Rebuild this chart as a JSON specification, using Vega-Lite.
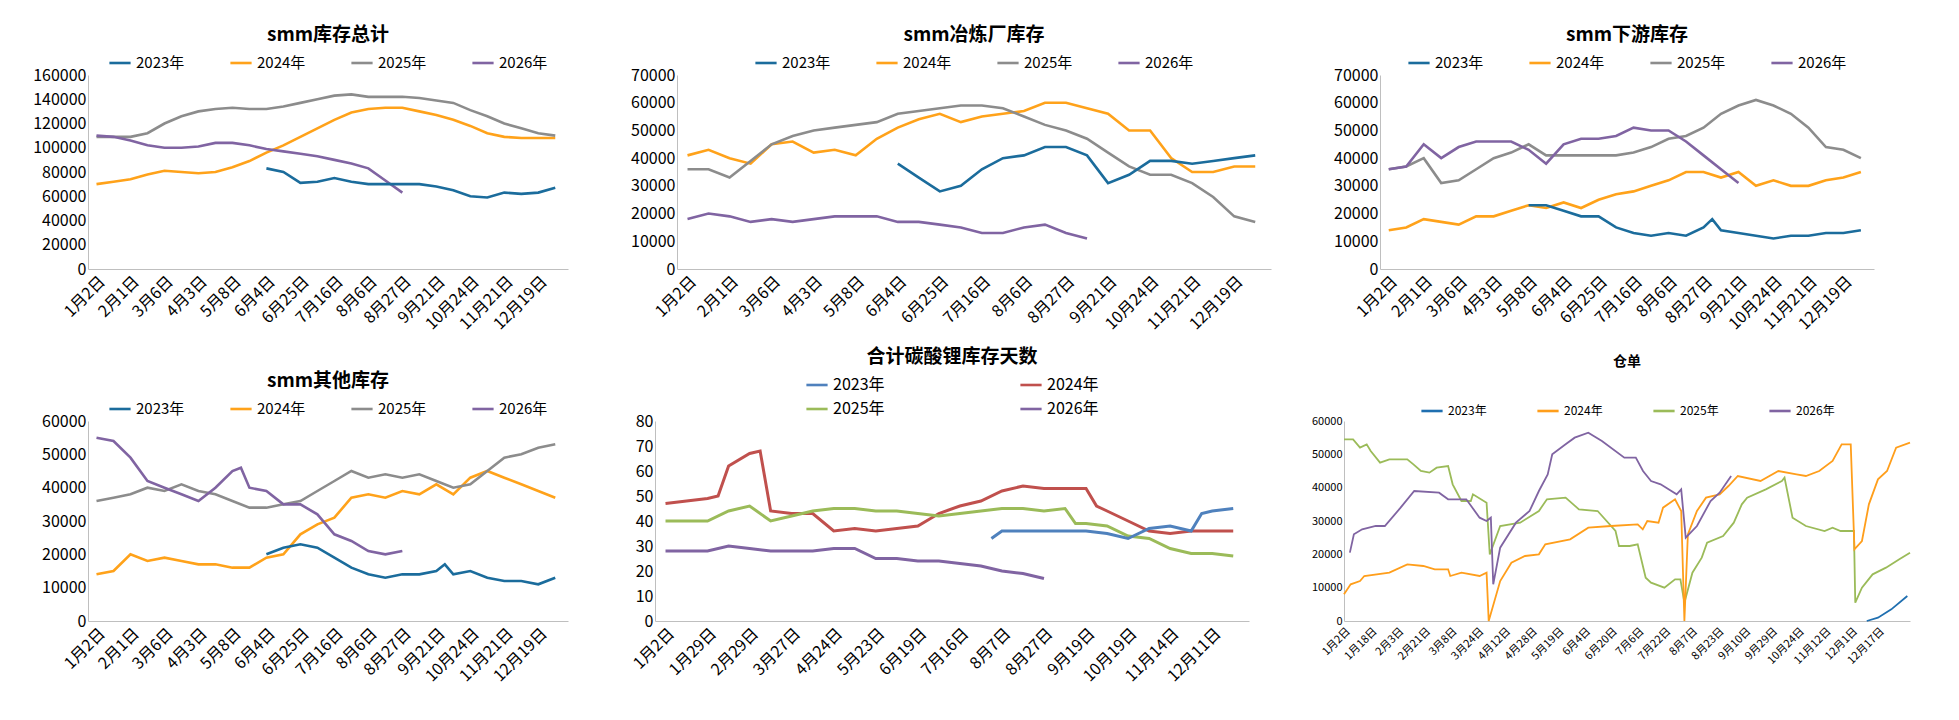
{
  "$schema": "https://vega.github.io/schema/vega-lite/v6.json",
  "background": "white",
  "padding": {"left": 32, "top": 26, "right": 5, "bottom": 5},
  "resolve": {"scale": {"color": "independent"}, "legend": {"color": "independent"}},
  "config": {
    "view": {"stroke": null},
    "font": "Noto Sans CJK SC",
    "axis": {"grid": false, "ticks": false, "domainColor": "#BFBFBF", "labelColor": "#000", "labelFontSize": 16, "title": null, "labelFont": "Noto Sans CJK SC", "labelOverlap": false},
    "axisX": {"labelAngle": -45, "labelPadding": 4},
    "legend": {"orient": "top", "direction": "horizontal", "title": null, "symbolType": "stroke", "symbolStrokeWidth": 3, "symbolSize": 450, "labelFontSize": 15, "columnPadding": 40, "offset": 4, "layout": {"top": {"anchor": "middle"}}},
    "title": {"fontSize": 19, "fontWeight": "bold", "color": "#000", "offset": 6},
    "line": {"strokeWidth": 2.6}
  },
  "vconcat": [
    {
      "spacing": 62,
      "resolve": {"scale": {"color": "independent"}, "legend": {"color": "independent"}},
      "hconcat": [
        {
          "title": "smm库存总计",
          "width": 480, "height": 194,
          "data": {"values": [
            {"i":0,"b":70000,"c":109000,"d":110000},{"i":2,"b":72000,"c":109000,"d":109000},{"i":4,"b":74000,"c":109000,"d":106000},{"i":6,"b":78000,"c":112000,"d":102000},{"i":8,"b":81000,"c":120000,"d":100000},{"i":10,"b":80000,"c":126000,"d":100000},{"i":12,"b":79000,"c":130000,"d":101000},{"i":14,"b":80000,"c":132000,"d":104000},{"i":16,"b":84000,"c":133000,"d":104000},{"i":18,"b":89000,"c":132000,"d":102000},{"i":20,"a":83000,"b":96000,"c":132000,"d":99000},{"i":22,"a":80000,"b":102000,"c":134000,"d":97000},{"i":24,"a":71000,"b":109000,"c":137000,"d":95000},{"i":26,"a":72000,"b":116000,"c":140000,"d":93000},{"i":28,"a":75000,"b":123000,"c":143000,"d":90000},{"i":30,"a":72000,"b":129000,"c":144000,"d":87000},{"i":32,"a":70000,"b":132000,"c":142000,"d":83000},{"i":34,"a":70000,"b":133000,"c":142000,"d":73000},{"i":36,"a":70000,"b":133000,"c":142000,"d":63000},{"i":38,"a":70000,"b":130000,"c":141000},{"i":40,"a":68000,"b":127000,"c":139000},{"i":42,"a":65000,"b":123000,"c":137000},{"i":44,"a":60000,"b":118000,"c":131000},{"i":46,"a":59000,"b":112000,"c":126000},{"i":48,"a":63000,"b":109000,"c":120000},{"i":50,"a":62000,"b":108000,"c":116000},{"i":52,"a":63000,"b":108000,"c":112000},{"i":54,"a":67000,"b":108000,"c":110000}
          ]},
          "transform": [{"fold": ["a","b","c","d"], "as": ["s","v"]}, {"filter": {"field": "v", "valid": true}}],
          "mark": "line",
          "encoding": {
            "x": {"field": "i", "type": "quantitative", "scale": {"domain": [-1, 55.5], "nice": false}, "axis": {"values": [0,4,8,12,16,20,24,28,32,36,40,44,48,52], "labelExpr": "['1月2日','2月1日','3月6日','4月3日','5月8日','6月4日','6月25日','7月16日','8月6日','8月27日','9月21日','10月24日','11月21日','12月19日'][datum.value/4]"}},
            "y": {"field": "v", "type": "quantitative", "scale": {"domain": [0, 160000]}, "axis": {"values": [0,20000,40000,60000,80000,100000,120000,140000,160000], "format": "d"}},
            "color": {"field": "s", "type": "nominal", "scale": {"domain": ["a","b","c","d"], "range": ["#1B6C9C","#FFA21A","#8C8C8C","#8064A2"]}, "legend": {"labelExpr": "{'a':'2023年','b':'2024年','c':'2025年','d':'2026年'}[datum.label]"}}
          }
        },
        {
          "title": "smm冶炼厂库存",
          "width": 594, "height": 194,
          "data": {"values": [
            {"i":0,"b":41000,"c":36000,"d":18000},{"i":2,"b":43000,"c":36000,"d":20000},{"i":4,"b":40000,"c":33000,"d":19000},{"i":6,"b":38000,"c":39000,"d":17000},{"i":8,"b":45000,"c":45000,"d":18000},{"i":10,"b":46000,"c":48000,"d":17000},{"i":12,"b":42000,"c":50000,"d":18000},{"i":14,"b":43000,"c":51000,"d":19000},{"i":16,"b":41000,"c":52000,"d":19000},{"i":18,"b":47000,"c":53000,"d":19000},{"i":20,"a":38000,"b":51000,"c":56000,"d":17000},{"i":22,"a":33000,"b":54000,"c":57000,"d":17000},{"i":24,"a":28000,"b":56000,"c":58000,"d":16000},{"i":26,"a":30000,"b":53000,"c":59000,"d":15000},{"i":28,"a":36000,"b":55000,"c":59000,"d":13000},{"i":30,"a":40000,"b":56000,"c":58000,"d":13000},{"i":32,"a":41000,"b":57000,"c":55000,"d":15000},{"i":34,"a":44000,"b":60000,"c":52000,"d":16000},{"i":36,"a":44000,"b":60000,"c":50000,"d":13000},{"i":38,"a":41000,"b":58000,"c":47000,"d":11000},{"i":40,"a":31000,"b":56000,"c":42000},{"i":42,"a":34000,"b":50000,"c":37000},{"i":44,"a":39000,"b":50000,"c":34000},{"i":46,"a":39000,"b":40000,"c":34000},{"i":48,"a":38000,"b":35000,"c":31000},{"i":50,"a":39000,"b":35000,"c":26000},{"i":52,"a":40000,"b":37000,"c":19000},{"i":54,"a":41000,"b":37000,"c":17000}
          ]},
          "transform": [{"fold": ["a","b","c","d"], "as": ["s","v"]}, {"filter": {"field": "v", "valid": true}}],
          "mark": "line",
          "encoding": {
            "x": {"field": "i", "type": "quantitative", "scale": {"domain": [-1, 55.5], "nice": false}, "axis": {"values": [0,4,8,12,16,20,24,28,32,36,40,44,48,52], "labelExpr": "['1月2日','2月1日','3月6日','4月3日','5月8日','6月4日','6月25日','7月16日','8月6日','8月27日','9月21日','10月24日','11月21日','12月19日'][datum.value/4]"}},
            "y": {"field": "v", "type": "quantitative", "scale": {"domain": [0, 70000]}, "axis": {"values": [0,10000,20000,30000,40000,50000,60000,70000], "format": "d"}},
            "color": {"field": "s", "type": "nominal", "scale": {"domain": ["a","b","c","d"], "range": ["#1B6C9C","#FFA21A","#8C8C8C","#8064A2"]}, "legend": {"labelExpr": "{'a':'2023年','b':'2024年','c':'2025年','d':'2026年'}[datum.label]"}}
          }
        },
        {
          "title": "smm下游库存",
          "width": 494, "height": 194,
          "data": {"values": [
            {"i":0,"b":14000,"c":36000,"d":36000},{"i":2,"b":15000,"c":37000,"d":37000},{"i":4,"b":18000,"c":40000,"d":45000},{"i":6,"b":17000,"c":31000,"d":40000},{"i":8,"b":16000,"c":32000,"d":44000},{"i":10,"b":19000,"c":36000,"d":46000},{"i":12,"b":19000,"c":40000,"d":46000},{"i":14,"b":21000,"c":42000,"d":46000},{"i":16,"a":23000,"b":23000,"c":45000,"d":43000},{"i":18,"a":23000,"b":22000,"c":41000,"d":38000},{"i":20,"a":21000,"b":24000,"c":41000,"d":45000},{"i":22,"a":19000,"b":22000,"c":41000,"d":47000},{"i":24,"a":19000,"b":25000,"c":41000,"d":47000},{"i":26,"a":15000,"b":27000,"c":41000,"d":48000},{"i":28,"a":13000,"b":28000,"c":42000,"d":51000},{"i":30,"a":12000,"b":30000,"c":44000,"d":50000},{"i":32,"a":13000,"b":32000,"c":47000,"d":50000},{"i":34,"a":12000,"b":35000,"c":48000,"d":46000},{"i":36,"a":15000,"b":35000,"c":51000,"d":41000},{"i":37,"a":18000},{"i":38,"a":14000,"b":33000,"c":56000,"d":36000},{"i":40,"a":13000,"b":35000,"c":59000,"d":31000},{"i":42,"a":12000,"b":30000,"c":61000},{"i":44,"a":11000,"b":32000,"c":59000},{"i":46,"a":12000,"b":30000,"c":56000},{"i":48,"a":12000,"b":30000,"c":51000},{"i":50,"a":13000,"b":32000,"c":44000},{"i":52,"a":13000,"b":33000,"c":43000},{"i":54,"a":14000,"b":35000,"c":40000}
          ]},
          "transform": [{"fold": ["a","b","c","d"], "as": ["s","v"]}, {"filter": {"field": "v", "valid": true}}],
          "mark": "line",
          "encoding": {
            "x": {"field": "i", "type": "quantitative", "scale": {"domain": [-1, 55.5], "nice": false}, "axis": {"values": [0,4,8,12,16,20,24,28,32,36,40,44,48,52], "labelExpr": "['1月2日','2月1日','3月6日','4月3日','5月8日','6月4日','6月25日','7月16日','8月6日','8月27日','9月21日','10月24日','11月21日','12月19日'][datum.value/4]"}},
            "y": {"field": "v", "type": "quantitative", "scale": {"domain": [0, 70000]}, "axis": {"values": [0,10000,20000,30000,40000,50000,60000,70000], "format": "d"}},
            "color": {"field": "s", "type": "nominal", "scale": {"domain": ["a","b","c","d"], "range": ["#1B6C9C","#FFA21A","#8C8C8C","#8064A2"]}, "legend": {"labelExpr": "{'a':'2023年','b':'2024年','c':'2025年','d':'2026年'}[datum.label]"}}
          }
        }
      ]
    },
    {
      "spacing": 62,
      "resolve": {"scale": {"color": "independent"}, "legend": {"color": "independent"}},
      "hconcat": [
        {
          "title": "smm其他库存",
          "width": 480, "height": 200,
          "data": {"values": [
            {"i":0,"b":14000,"c":36000,"d":55000},{"i":2,"b":15000,"c":37000,"d":54000},{"i":4,"b":20000,"c":38000,"d":49000},{"i":6,"b":18000,"c":40000,"d":42000},{"i":8,"b":19000,"c":39000,"d":40000},{"i":10,"b":18000,"c":41000,"d":38000},{"i":12,"b":17000,"c":39000,"d":36000},{"i":14,"b":17000,"c":38000,"d":40000},{"i":16,"b":16000,"c":36000,"d":45000},{"i":17,"d":46000},{"i":18,"b":16000,"c":34000,"d":40000},{"i":20,"a":20000,"b":19000,"c":34000,"d":39000},{"i":22,"a":22000,"b":20000,"c":35000,"d":35000},{"i":24,"a":23000,"b":26000,"c":36000,"d":35000},{"i":26,"a":22000,"b":29000,"c":39000,"d":32000},{"i":28,"a":19000,"b":31000,"c":42000,"d":26000},{"i":30,"a":16000,"b":37000,"c":45000,"d":24000},{"i":32,"a":14000,"b":38000,"c":43000,"d":21000},{"i":34,"a":13000,"b":37000,"c":44000,"d":20000},{"i":36,"a":14000,"b":39000,"c":43000,"d":21000},{"i":38,"a":14000,"b":38000,"c":44000},{"i":40,"a":15000,"b":41000,"c":42000},{"i":41,"a":17000},{"i":42,"a":14000,"b":38000,"c":40000},{"i":44,"a":15000,"b":43000,"c":41000},{"i":46,"a":13000,"b":45000,"c":45000},{"i":48,"a":12000,"b":43000,"c":49000},{"i":50,"a":12000,"b":41000,"c":50000},{"i":52,"a":11000,"b":39000,"c":52000},{"i":54,"a":13000,"b":37000,"c":53000}
          ]},
          "transform": [{"fold": ["a","b","c","d"], "as": ["s","v"]}, {"filter": {"field": "v", "valid": true}}],
          "mark": "line",
          "encoding": {
            "x": {"field": "i", "type": "quantitative", "scale": {"domain": [-1, 55.5], "nice": false}, "axis": {"values": [0,4,8,12,16,20,24,28,32,36,40,44,48,52], "labelExpr": "['1月2日','2月1日','3月6日','4月3日','5月8日','6月4日','6月25日','7月16日','8月6日','8月27日','9月21日','10月24日','11月21日','12月19日'][datum.value/4]"}},
            "y": {"field": "v", "type": "quantitative", "scale": {"domain": [0, 60000]}, "axis": {"values": [0,10000,20000,30000,40000,50000,60000], "format": "d"}},
            "color": {"field": "s", "type": "nominal", "scale": {"domain": ["a","b","c","d"], "range": ["#1B6C9C","#FFA21A","#8C8C8C","#8064A2"]}, "legend": {"labelExpr": "{'a':'2023年','b':'2024年','c':'2025年','d':'2026年'}[datum.label]"}}
          }
        },
        {
          "title": "合计碳酸锂库存天数",
          "width": 594, "height": 200,
          "data": {"values": [
            {"i":0,"b":47,"c":40,"d":28},{"i":2,"b":48,"c":40,"d":28},{"i":4,"b":49,"c":40,"d":28},{"i":5,"b":50},{"i":6,"b":62,"c":44,"d":30},{"i":8,"b":67,"c":46,"d":29},{"i":9,"b":68},{"i":10,"b":44,"c":40,"d":28},{"i":12,"b":43,"c":42,"d":28},{"i":14,"b":43,"c":44,"d":28},{"i":16,"b":36,"c":45,"d":29},{"i":18,"b":37,"c":45,"d":29},{"i":20,"b":36,"c":44,"d":25},{"i":22,"b":37,"c":44,"d":25},{"i":24,"b":38,"c":43,"d":24},{"i":26,"b":43,"c":42,"d":24},{"i":28,"b":46,"c":43,"d":23},{"i":30,"b":48,"c":44,"d":22},{"i":31,"a":33},{"i":32,"a":36,"b":52,"c":45,"d":20},{"i":34,"a":36,"b":54,"c":45,"d":19},{"i":36,"a":36,"b":53,"c":44,"d":17},{"i":38,"a":36,"b":53,"c":45},{"i":39,"c":39},{"i":40,"a":36,"b":53,"c":39},{"i":41,"b":46},{"i":42,"a":35,"b":44,"c":38},{"i":44,"a":33,"b":40,"c":34},{"i":46,"a":37,"b":36,"c":33},{"i":48,"a":38,"b":35,"c":29},{"i":50,"a":36,"b":36,"c":27},{"i":51,"a":43},{"i":52,"a":44,"b":36,"c":27},{"i":54,"a":45,"b":36,"c":26}
          ]},
          "transform": [{"fold": ["a","b","c","d"], "as": ["s","v"]}, {"filter": {"field": "v", "valid": true}}],
          "mark": {"type": "line", "strokeWidth": 3},
          "encoding": {
            "x": {"field": "i", "type": "quantitative", "scale": {"domain": [-1, 55.5], "nice": false}, "axis": {"values": [0,4,8,12,16,20,24,28,32,36,40,44,48,52], "labelExpr": "['1月2日','1月29日','2月29日','3月27日','4月24日','5月23日','6月19日','7月16日','8月7日','8月27日','9月19日','10月19日','11月14日','12月11日'][datum.value/4]"}},
            "y": {"field": "v", "type": "quantitative", "scale": {"domain": [0, 80]}, "axis": {"values": [0,10,20,30,40,50,60,70,80]}},
            "color": {"field": "s", "type": "nominal", "scale": {"domain": ["a","b","c","d"], "range": ["#4F81BD","#C0504D","#9BBB59","#8064A2"]}, "legend": {"columns": 2, "columnPadding": 130, "rowPadding": 4, "labelFontSize": 16, "labelExpr": "{'a':'2023年','b':'2024年','c':'2025年','d':'2026年'}[datum.label]"}}
          }
        },
        {
          "title": {"text": "仓单", "fontSize": 14, "offset": 30},
          "width": 566, "height": 200,
          "data": {"values": [
            {"x":0,"s":"c","v":54500},{"x":3.4,"s":"c","v":54500},{"x":6,"s":"c","v":52000},{"x":8.5,"s":"c","v":53000},{"x":10,"s":"c","v":51000},{"x":13.5,"s":"c","v":47500},{"x":17,"s":"c","v":48500},{"x":23.7,"s":"c","v":48500},{"x":26,"s":"c","v":47000},{"x":28.8,"s":"c","v":45000},{"x":32,"s":"c","v":44500},{"x":34.7,"s":"c","v":46000},{"x":39,"s":"c","v":46500},{"x":40.7,"s":"c","v":41000},{"x":44,"s":"c","v":36000},{"x":47.5,"s":"c","v":36000},{"x":48.3,"s":"c","v":38000},{"x":53.4,"s":"c","v":35500},{"x":54.6,"s":"c","v":20000},{"x":58.5,"s":"c","v":28500},{"x":66,"s":"c","v":29500},{"x":73,"s":"c","v":33000},{"x":76,"s":"c","v":36500},{"x":83,"s":"c","v":37000},{"x":88,"s":"c","v":33500},{"x":95,"s":"c","v":33000},{"x":101.7,"s":"c","v":27000},{"x":103,"s":"c","v":22500},{"x":107,"s":"c","v":22500},{"x":110,"s":"c","v":23000},{"x":113,"s":"c","v":13000},{"x":115,"s":"c","v":11500},{"x":120,"s":"c","v":10000},{"x":124,"s":"c","v":12500},{"x":126,"s":"c","v":12500},{"x":127.5,"s":"c","v":5500},{"x":130.5,"s":"c","v":14500},{"x":134,"s":"c","v":19000},{"x":136,"s":"c","v":23500},{"x":142,"s":"c","v":25500},{"x":146,"s":"c","v":29500},{"x":149,"s":"c","v":35000},{"x":151,"s":"c","v":37000},{"x":158,"s":"c","v":39500},{"x":164,"s":"c","v":42000},{"x":165,"s":"c","v":43000},{"x":168,"s":"c","v":31000},{"x":173,"s":"c","v":28500},{"x":180,"s":"c","v":27000},{"x":183,"s":"c","v":28000},{"x":186,"s":"c","v":27000},{"x":191,"s":"c","v":27000},{"x":191.5,"s":"c","v":5500},{"x":194,"s":"c","v":10000},{"x":198,"s":"c","v":14000},{"x":203,"s":"c","v":16000},{"x":208,"s":"c","v":18500},{"x":212,"s":"c","v":20500},
            {"x":0,"s":"b","v":8000},{"x":2.5,"s":"b","v":11000},{"x":6,"s":"b","v":12000},{"x":7.6,"s":"b","v":13500},{"x":17,"s":"b","v":14500},{"x":23.7,"s":"b","v":17000},{"x":29.7,"s":"b","v":16500},{"x":34,"s":"b","v":15500},{"x":39,"s":"b","v":15500},{"x":39.8,"s":"b","v":13500},{"x":44,"s":"b","v":14500},{"x":50.8,"s":"b","v":13500},{"x":53.4,"s":"b","v":14500},{"x":54.2,"s":"b","v":0},{"x":58.5,"s":"b","v":12000},{"x":62.7,"s":"b","v":17500},{"x":67.8,"s":"b","v":19500},{"x":73,"s":"b","v":20000},{"x":75.4,"s":"b","v":23000},{"x":84.7,"s":"b","v":24500},{"x":91.5,"s":"b","v":28000},{"x":100,"s":"b","v":28500},{"x":110,"s":"b","v":29000},{"x":111.9,"s":"b","v":27500},{"x":113.6,"s":"b","v":30000},{"x":117.8,"s":"b","v":29500},{"x":119.5,"s":"b","v":34000},{"x":124,"s":"b","v":36500},{"x":126.3,"s":"b","v":33000},{"x":127.5,"s":"b","v":0},{"x":128.8,"s":"b","v":26000},{"x":132.2,"s":"b","v":33000},{"x":135.6,"s":"b","v":37000},{"x":140.7,"s":"b","v":38000},{"x":144,"s":"b","v":40500},{"x":147.5,"s":"b","v":43500},{"x":156,"s":"b","v":42000},{"x":162.7,"s":"b","v":45000},{"x":169.5,"s":"b","v":44000},{"x":173,"s":"b","v":43500},{"x":178,"s":"b","v":45000},{"x":183,"s":"b","v":48000},{"x":186.4,"s":"b","v":53000},{"x":189.8,"s":"b","v":53000},{"x":191.2,"s":"b","v":21500},{"x":194,"s":"b","v":24000},{"x":196.6,"s":"b","v":35000},{"x":200,"s":"b","v":42500},{"x":203.4,"s":"b","v":45000},{"x":206.8,"s":"b","v":52000},{"x":212,"s":"b","v":53500},
            {"x":2.2,"s":"d","v":20500},{"x":3.7,"s":"d","v":26000},{"x":6.8,"s":"d","v":27500},{"x":11.9,"s":"d","v":28500},{"x":15.3,"s":"d","v":28500},{"x":21.2,"s":"d","v":34000},{"x":26.3,"s":"d","v":39000},{"x":35.6,"s":"d","v":38500},{"x":39,"s":"d","v":36500},{"x":45.8,"s":"d","v":36500},{"x":50.8,"s":"d","v":31000},{"x":53.4,"s":"d","v":30000},{"x":55,"s":"d","v":31000},{"x":55.9,"s":"d","v":11000},{"x":58.5,"s":"d","v":22000},{"x":64.4,"s":"d","v":29500},{"x":69.5,"s":"d","v":33000},{"x":73,"s":"d","v":39000},{"x":76.3,"s":"d","v":44000},{"x":78,"s":"d","v":50000},{"x":83,"s":"d","v":53000},{"x":86.4,"s":"d","v":55000},{"x":91.5,"s":"d","v":56500},{"x":96.6,"s":"d","v":54000},{"x":105,"s":"d","v":49000},{"x":109.3,"s":"d","v":49000},{"x":112,"s":"d","v":45000},{"x":115,"s":"d","v":42000},{"x":118.6,"s":"d","v":41000},{"x":124.6,"s":"d","v":38000},{"x":126.3,"s":"d","v":39500},{"x":128,"s":"d","v":25000},{"x":132.2,"s":"d","v":28500},{"x":137.3,"s":"d","v":36000},{"x":140.7,"s":"d","v":38500},{"x":145,"s":"d","v":43500},
            {"x":195.8,"s":"a","v":0},{"x":200,"s":"a","v":1000},{"x":205,"s":"a","v":3500},{"x":211,"s":"a","v":7500}
          ]},
          "mark": {"type": "line", "strokeWidth": 1.8},
          "encoding": {
            "x": {"field": "x", "type": "quantitative", "scale": {"domain": [0, 212], "nice": false}, "axis": {"values": [0,10,20,30,40,50,60,70,80,90,100,110,120,130,140,150,160,170,180,190,200], "labelFontSize": 11, "labelExpr": "['1月2日','1月18日','2月3日','2月21日','3月8日','3月24日','4月12日','4月28日','5月19日','6月4日','6月20日','7月6日','7月22日','8月7日','8月23日','9月10日','9月29日','10月24日','11月12日','12月1日','12月17日'][datum.value/10]"}},
            "y": {"field": "v", "type": "quantitative", "scale": {"domain": [0, 60000]}, "axis": {"values": [0,10000,20000,30000,40000,50000,60000], "format": "d", "labelFontSize": 11}},
            "color": {"field": "s", "type": "nominal", "scale": {"domain": ["a","b","c","d"], "range": ["#1F6FB0","#FF9E1B","#9BBB59","#8064A2"]}, "legend": {"labelFontSize": 12, "columnPadding": 45, "labelExpr": "{'a':'2023年','b':'2024年','c':'2025年','d':'2026年'}[datum.label]"}}
          }
        }
      ]
    }
  ],
  "spacing": 15
}
